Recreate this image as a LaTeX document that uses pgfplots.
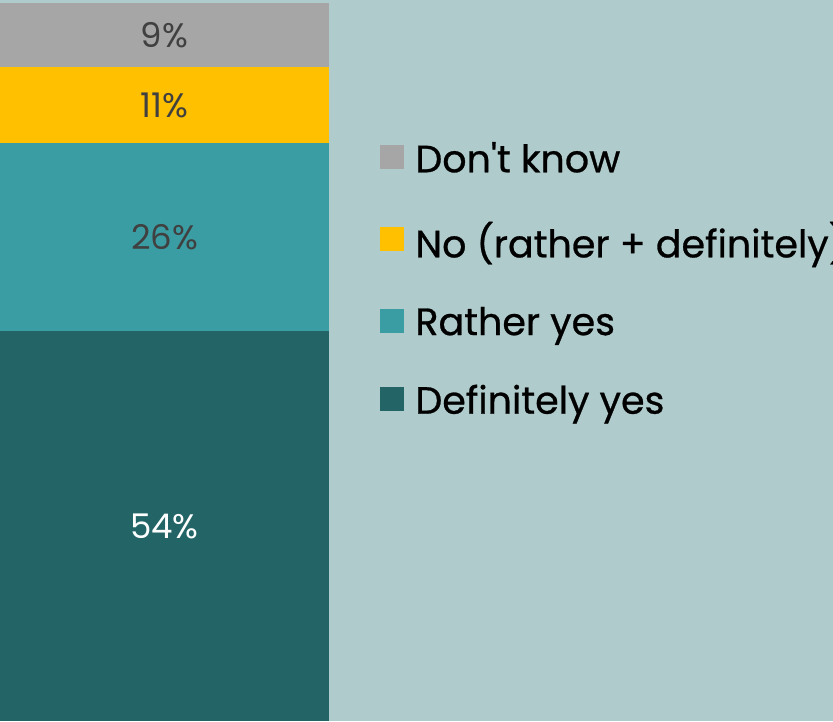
\documentclass[border=0pt]{standalone}
\usepackage{pgfplots}
\pgfplotsset{compat=1.18}
\usepackage{fontspec}
\setmainfont{Poppins}[Ligatures=TeXOff]
\newfontfamily\legfont{Poppins}[Ligatures=TeXOff, FakeBold=0.7]
\definecolor{bg}{HTML}{B0CBCC}
\definecolor{cgray}{HTML}{A6A6A6}
\definecolor{cyel}{HTML}{FFC000}
\definecolor{cteal}{HTML}{3B9DA4}
\definecolor{cdark}{HTML}{236467}
\definecolor{ltxt}{HTML}{404040}
\begin{document}
\begin{tikzpicture}
\useasboundingbox (0,0) rectangle (416.5pt,360.5pt);
\clip (0,0) rectangle (416.5pt,360.5pt);
\fill[bg] (0,0) rectangle (416.5pt,360.5pt);
\begin{axis}[
  at={(0,0)}, anchor=south west,
  scale only axis, width=164.5pt, height=359pt,
  xmin=-0.5, xmax=0.5, ymin=0, ymax=100,
  axis lines=none, ticks=none,
  ybar stacked, bar width=164.5pt,
  point meta=explicit,
  /pgf/number format/assume math mode=true,
  nodes near coords={\pgfmathprintnumber{\pgfplotspointmeta}\%},
  every node near coord/.append style={anchor=center, font=\fontsize{17}{20}\selectfont},
  reverse legend,
  legend cell align=left,
  legend style={at={(1.155,0.8125)}, anchor=north west, draw=none, fill=none,
    inner sep=0pt, font=\legfont\fontsize{19}{23}\selectfont, row sep=19.3pt},
  legend image code/.code={\fill[#1,draw=none] (0pt,-5pt) rectangle (12pt,7pt); \path (15.5pt,0pt);},
]
\addplot+[fill=cdark, draw=none, nodes near coords style={text=white}] coordinates {(0,54.3) [54]};
\addplot+[fill=cteal, draw=none, nodes near coords style={text=ltxt}] coordinates {(0,26.2) [26]};
\addplot+[fill=cyel, draw=none, nodes near coords style={text=ltxt}] coordinates {(0,10.6) [11]};
\addplot+[fill=cgray, draw=none, nodes near coords style={text=ltxt}] coordinates {(0,8.9) [9]};
\legend{Definitely yes, Rather yes, No (rather + definitely), Don't know}
\end{axis}
\end{tikzpicture}
\end{document}
